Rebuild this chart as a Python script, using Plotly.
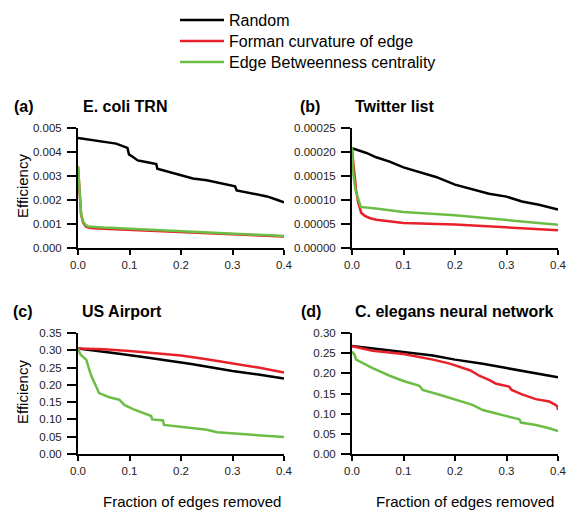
import plotly.graph_objects as go
from plotly.subplots import make_subplots

# (a) E. coli TRN
a_rand_x = [0, 0.041, 0.074, 0.096, 0.099, 0.106, 0.116, 0.132, 0.152, 0.154, 0.171, 0.197, 0.223, 0.25, 0.276, 0.305, 0.308, 0.334, 0.367, 0.386, 0.4]
a_rand_y = [0.00458, 0.00444, 0.00435, 0.00417, 0.0039, 0.0038, 0.00365, 0.00358, 0.0035, 0.0033, 0.0032, 0.00306, 0.0029, 0.00282, 0.0027, 0.00257, 0.0024, 0.00229, 0.00215, 0.00201, 0.0019]
a_form_x = [0, 0.003, 0.006, 0.01, 0.015, 0.02, 0.03, 0.05, 0.1, 0.15, 0.2, 0.3, 0.4]
a_form_y = [0.0034, 0.0022, 0.0014, 0.00105, 0.0009, 0.00085, 0.00082, 0.0008, 0.00075, 0.0007, 0.00065, 0.00058, 0.00048]
a_betw_x = [0, 0.003, 0.006, 0.01, 0.015, 0.02, 0.03, 0.05, 0.1, 0.15, 0.2, 0.3, 0.4]
a_betw_y = [0.0034, 0.0022, 0.0014, 0.0011, 0.00095, 0.0009, 0.00088, 0.00085, 0.0008, 0.00075, 0.0007, 0.0006, 0.0005]

# (b) Twitter list
b_rand_x = [0, 0.028, 0.047, 0.073, 0.1, 0.137, 0.163, 0.2, 0.234, 0.266, 0.3, 0.33, 0.363, 0.4]
b_rand_y = [0.000208, 0.000198, 0.000189, 0.00018, 0.000168, 0.000156, 0.000148, 0.000132, 0.000123, 0.000113, 0.000107, 0.000097, 0.00009, 0.00008]
b_form_x = [0, 0.004, 0.008, 0.012, 0.018, 0.025, 0.034, 0.047, 0.1, 0.2, 0.3, 0.4]
b_form_y = [0.000205, 0.00016, 0.00012, 0.000095, 0.000073, 0.000067, 0.0000625, 0.000059, 0.000052, 0.000049, 0.000043, 0.000037]
b_betw_x = [0, 0.003, 0.007, 0.012, 0.017, 0.05, 0.1, 0.2, 0.3, 0.4]
b_betw_y = [0.00021, 0.00015, 0.00012, 0.0001, 0.0000855, 0.000082, 0.000075, 0.000068, 0.000059, 0.0000486]

# (c) US Airport
c_rand_x = [0, 0.03, 0.08, 0.13, 0.18, 0.22, 0.26, 0.3, 0.35, 0.4]
c_rand_y = [0.305, 0.3, 0.29, 0.28, 0.27, 0.26, 0.25, 0.24, 0.23, 0.218]
c_form_x = [0, 0.05, 0.1, 0.15, 0.2, 0.25, 0.3, 0.35, 0.4]
c_form_y = [0.305, 0.303, 0.298, 0.292, 0.285, 0.274, 0.263, 0.25, 0.236]
c_betw_x = [0, 0.005, 0.016, 0.025, 0.041, 0.061, 0.08, 0.09, 0.107, 0.142, 0.144, 0.165, 0.167, 0.2, 0.25, 0.27, 0.3, 0.355, 0.4]
c_betw_y = [0.305, 0.287, 0.273, 0.229, 0.176, 0.164, 0.157, 0.142, 0.13, 0.11, 0.1, 0.097, 0.084, 0.079, 0.07, 0.063, 0.06, 0.054, 0.049]

# (d) C. elegans neural network
d_rand_x = [0, 0.1, 0.157, 0.2, 0.254, 0.3, 0.4]
d_rand_y = [0.268, 0.252, 0.244, 0.234, 0.224, 0.213, 0.19]
d_form_x = [0, 0.04, 0.1, 0.137, 0.157, 0.19, 0.215, 0.23, 0.247, 0.266, 0.28, 0.305, 0.31, 0.33, 0.357, 0.383, 0.395, 0.399, 0.4]
d_form_y = [0.267, 0.256, 0.248, 0.24, 0.234, 0.224, 0.213, 0.207, 0.194, 0.184, 0.174, 0.167, 0.159, 0.148, 0.136, 0.13, 0.122, 0.118, 0.109]
d_betw_x = [0, 0.005, 0.008, 0.04, 0.073, 0.1, 0.131, 0.137, 0.17, 0.2, 0.234, 0.254, 0.28, 0.3, 0.325, 0.328, 0.357, 0.383, 0.4]
d_betw_y = [0.254, 0.246, 0.234, 0.213, 0.194, 0.181, 0.169, 0.159, 0.147, 0.136, 0.122, 0.109, 0.101, 0.093, 0.086, 0.078, 0.072, 0.064, 0.057]

names = ["Random", "Forman curvature of edge", "Edge Betweenness centrality"]
colors = ["#000000", "#e8202a", "#6cbd45"]
legends = ["legend", "legend2", "legend3"]

panels = [
    (1, 1, [(a_rand_x, a_rand_y), (a_form_x, a_form_y), (a_betw_x, a_betw_y)]),
    (1, 2, [(b_rand_x, b_rand_y), (b_form_x, b_form_y), (b_betw_x, b_betw_y)]),
    (2, 1, [(c_rand_x, c_rand_y), (c_form_x, c_form_y), (c_betw_x, c_betw_y)]),
    (2, 2, [(d_rand_x, d_rand_y), (d_form_x, d_form_y), (d_betw_x, d_betw_y)]),
]

# page body has an 8px margin, so the figure is a bit smaller than the window
W, H = 573, 513
def fx(p):
    return (p - 8) / W
def fy(p):
    return 1 - (p - 8) / H

fig = make_subplots(rows=2, cols=2)

for row, col, series in panels:
    for i, (xs, ys) in enumerate(series):
        fig.add_trace(go.Scatter(x=xs, y=ys, mode="lines", name=names[i],
                                 line=dict(color=colors[i], width=2.5),
                                 legend=legends[i],
                                 showlegend=(row == 1 and col == 1)),
                      row=row, col=col)

fnt = "Liberation Sans, Arial, sans-serif"
axis_common = dict(showgrid=False, zeroline=False, showline=True, linecolor="black",
                   linewidth=2, ticks="outside", tickwidth=1.5, tickcolor="black",
                   automargin=False,
                   tickfont=dict(family=fnt, size=11.5, color="#222"))

xdom = {1: [fx(78), fx(284)], 2: [fx(352), fx(558)]}
ydom = {1: [fy(248), fy(128)], 2: [fy(454), fy(333)]}
yset = {
    (1, 1): dict(range=[0, 0.005], dtick=0.001, tickformat=".3f"),
    (1, 2): dict(range=[0, 0.00025], dtick=0.00005, tickformat=".5f"),
    (2, 1): dict(range=[0, 0.35], dtick=0.05, tickformat=".2f"),
    (2, 2): dict(range=[0, 0.30], dtick=0.05, tickformat=".2f"),
}
for (row, col), ys in yset.items():
    fig.update_xaxes(axis_common, domain=xdom[col], range=[0, 0.4], dtick=0.1,
                     tickformat=".1f", ticklen=5, row=row, col=col)
    fig.update_yaxes(axis_common, domain=ydom[row], ticklen=9, ticklabelstandoff=3,
                     row=row, col=col, **ys)

ann = []
labels = [("(a)", "E. coli TRN", 12, 81, 107), ("(b)", "Twitter list", 298, 353, 107),
          ("(c)", "US Airport", 11, 80, 311), ("(d)", "C. elegans neural network", 299, 353, 311)]
for lab, title, x0, x1, y0 in labels:
    ann.append(dict(text="<b>%s</b>" % lab, x=fx(x0), y=fy(y0), xref="paper", yref="paper",
                    xanchor="left", yanchor="middle", showarrow=False,
                    font=dict(family=fnt, size=16, color="black")))
    ann.append(dict(text="<b>%s</b>" % title, x=fx(x1), y=fy(y0), xref="paper", yref="paper",
                    xanchor="left", yanchor="middle", showarrow=False,
                    font=dict(family=fnt, size=16, color="black")))
for yc in [186, 392]:
    ann.append(dict(text="Efficiency", x=fx(22), y=fy(yc), xref="paper", yref="paper",
                    textangle=-90, xanchor="center", yanchor="middle", showarrow=False,
                    font=dict(family=fnt, size=15, color="black")))
for xc in [192, 465]:
    ann.append(dict(text="Fraction of edges removed", x=fx(xc), y=fy(501), xref="paper", yref="paper",
                    xanchor="center", yanchor="middle", showarrow=False,
                    font=dict(family=fnt, size=15, color="black")))

leg_style = dict(x=fx(175), xanchor="left", yanchor="middle",
                 font=dict(family=fnt, size=16, color="black"),
                 itemwidth=44, bgcolor="rgba(0,0,0,0)")
fig.update_layout(
    width=W, height=H, margin=dict(l=0, r=0, t=0, b=0, autoexpand=False),
    plot_bgcolor="white", paper_bgcolor="white",
    annotations=ann,
    legend=dict(leg_style, y=fy(20)),
    legend2=dict(leg_style, y=fy(41)),
    legend3=dict(leg_style, y=fy(62)),
)

fig.write_html("out.html")
